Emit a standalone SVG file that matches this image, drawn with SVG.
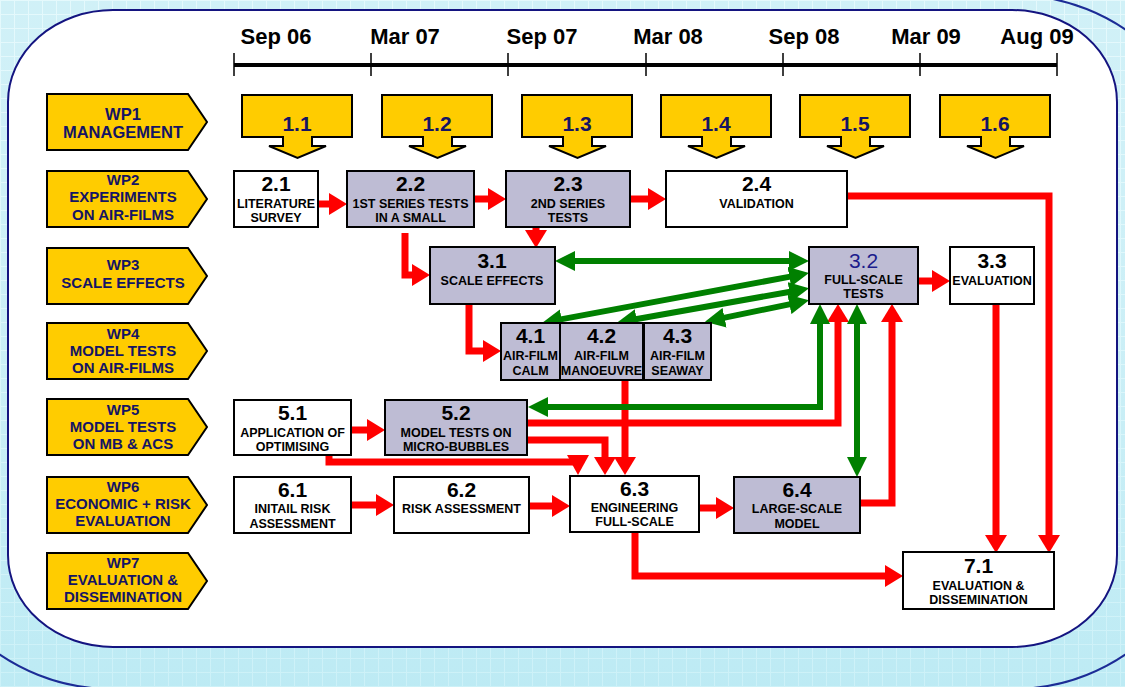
<svg xmlns="http://www.w3.org/2000/svg" width="1125" height="687" viewBox="0 0 1125 687">
<style>
text{font-family:"Liberation Sans",Arial,sans-serif;text-anchor:middle}
.tl{font-size:22px;font-weight:bold;fill:#000}
.wp{fill:#ffcc00;stroke:#000;stroke-width:2}
.wpt{font-size:15px;font-weight:bold;fill:#141464}
.box{stroke:#000;stroke-width:2}
.w{fill:#fff}
.g{fill:#bebcd4}
.num{font-size:21px;font-weight:bold;fill:#000}
.sub{font-size:12.5px;font-weight:bold;fill:#000}
.mnum{font-size:21px;font-weight:bold;fill:#141464}
.red{fill:none;stroke:#ff0000;stroke-width:7}
.grn{fill:none;stroke:#008000;stroke-width:6}
</style>
<defs>
<pattern id="grid" width="14" height="14" patternUnits="userSpaceOnUse">
<rect width="14" height="14" fill="#c8eef6"/>
<path d="M0,0.5H14M0.5,0V14" stroke="#e0f8fc" stroke-width="1"/>
</pattern>
<linearGradient id="bgfade" x1="0" y1="0" x2="0" y2="1">
<stop offset="0" stop-color="#ffffff" stop-opacity="0.15"/>
<stop offset="1" stop-color="#a8e4f0" stop-opacity="0.35"/>
</linearGradient>
<marker id="rh" viewBox="0 0 18 22" markerWidth="18" markerHeight="22" refX="1" refY="11" orient="auto" markerUnits="userSpaceOnUse">
<path d="M0,0 L18,11 L0,22 Z" fill="#ff0000"/>
</marker>
<marker id="gh" viewBox="0 0 20 20" markerWidth="20" markerHeight="20" refX="1" refY="10" orient="auto-start-reverse" markerUnits="userSpaceOnUse">
<path d="M0,0 L20,10 L0,20 Z" fill="#008000"/>
</marker>
<path id="down" d="M0,95 H110 V137 H70 V146 H84 L55.5,158 L27,146 H41 V137 H0 Z" fill="#ffcc00" stroke="#000" stroke-width="2"/>
</defs>

<rect width="1125" height="687" fill="url(#grid)"/>
<rect width="1125" height="687" fill="url(#bgfade)"/>
<path d="M112,-5 H1013 A200,200 0 0 1 1213,195 V489 A200,200 0 0 1 1013,689 H112 A200,200 0 0 1 -88,489" fill="none" stroke="#1c2c96" stroke-width="2"/>
<rect x="8" y="10" width="1109" height="637" rx="105" ry="92" fill="#fff" stroke="#141480" stroke-width="2"/>

<g id="timeline">
<line x1="234" y1="65" x2="1057" y2="65" stroke="#000" stroke-width="4"/>
<path d="M234,53V76M371,53V76M508,53V76M646,53V76M783,53V76M920,53V76M1057,53V76" stroke="#000" stroke-width="1.5"/>
<text class="tl" x="276" y="44">Sep 06</text>
<text class="tl" x="405" y="44">Mar 07</text>
<text class="tl" x="542" y="44">Sep 07</text>
<text class="tl" x="668" y="44">Mar 08</text>
<text class="tl" x="804" y="44">Sep 08</text>
<text class="tl" x="926" y="44">Mar 09</text>
<text class="tl" x="1037" y="44">Aug 09</text>
</g>

<g id="wp1"><path class="wp" d="M47,94 H188 L207,122 L188,150 H47 Z"/><text class="wpt" x="123" y="120" style="font-size:16.5px">WP1</text><text class="wpt" x="123" y="138" style="font-size:16.5px">MANAGEMENT</text></g>
<g id="wp2"><path class="wp" d="M47,171 H188 L207,199 L188,227 H47 Z"/><text class="wpt" x="123" y="185">WP2</text><text class="wpt" x="123" y="202">EXPERIMENTS</text><text class="wpt" x="123" y="220">ON AIR-FILMS</text></g>
<g id="wp3"><path class="wp" d="M47,248 H188 L207,276 L188,304 H47 Z"/><text class="wpt" x="123" y="270">WP3</text><text class="wpt" x="123" y="288">SCALE EFFECTS</text></g>
<g id="wp4"><path class="wp" d="M47,323 H188 L207,351 L188,379 H47 Z"/><text class="wpt" x="123" y="339">WP4</text><text class="wpt" x="123" y="356">MODEL TESTS</text><text class="wpt" x="123" y="373">ON AIR-FILMS</text></g>
<g id="wp5"><path class="wp" d="M47,399 H188 L207,427 L188,455 H47 Z"/><text class="wpt" x="123" y="415">WP5</text><text class="wpt" x="123" y="432">MODEL TESTS</text><text class="wpt" x="123" y="449">ON MB &amp; ACS</text></g>
<g id="wp6"><path class="wp" d="M47,477 H188 L207,505 L188,533 H47 Z"/><text class="wpt" x="123" y="492">WP6</text><text class="wpt" x="123" y="509">ECONOMIC + RISK</text><text class="wpt" x="123" y="526">EVALUATION</text></g>
<g id="wp7"><path class="wp" d="M47,553 H188 L207,581 L188,609 H47 Z"/><text class="wpt" x="123" y="568">WP7</text><text class="wpt" x="123" y="585">EVALUATION &amp;</text><text class="wpt" x="123" y="602">DISSEMINATION</text></g>

<g id="n1_1" transform="translate(242,0)"><use href="#down"/><text class="mnum" x="55" y="131">1.1</text></g>
<g id="n1_2" transform="translate(382,0)"><use href="#down"/><text class="mnum" x="55" y="131">1.2</text></g>
<g id="n1_3" transform="translate(522,0)"><use href="#down"/><text class="mnum" x="55" y="131">1.3</text></g>
<g id="n1_4" transform="translate(661,0)"><use href="#down"/><text class="mnum" x="55" y="131">1.4</text></g>
<g id="n1_5" transform="translate(800,0)"><use href="#down"/><text class="mnum" x="55" y="131">1.5</text></g>
<g id="n1_6" transform="translate(940,0)"><use href="#down"/><text class="mnum" x="55" y="131">1.6</text></g>

<g id="connectors">
<path class="red" d="M318,204 H330" marker-end="url(#rh)"/>
<path class="red" d="M474,199 H489" marker-end="url(#rh)"/>
<path class="red" d="M630,199 H649" marker-end="url(#rh)"/>
<path class="red" d="M847,196 H1049 V536" marker-end="url(#rh)"/>
<path class="red" d="M996,304 V536" marker-end="url(#rh)"/>
<path class="red" d="M405,233 V275 H413" marker-end="url(#rh)"/>
<path class="red" d="M536,227 V231" marker-end="url(#rh)"/>
<path class="red" d="M469,304 V351 H484" marker-end="url(#rh)"/>
<path class="red" d="M918,281 H933" marker-end="url(#rh)"/>
<path class="red" d="M625,380 V458" marker-end="url(#rh)"/>
<path class="red" d="M351,430 H368" marker-end="url(#rh)"/>
<path class="red" d="M527,423 H838 V321" marker-end="url(#rh)"/>
<path class="red" d="M527,440 H605 V458" marker-end="url(#rh)"/>
<path class="red" d="M329,455 V462 H578"/>
<path d="M567,455 L589,455 L578,475 Z" fill="#ff0000"/>
<path class="red" d="M351,505 H377" marker-end="url(#rh)"/>
<path class="red" d="M529,506 H553" marker-end="url(#rh)"/>
<path class="red" d="M699,508 H717" marker-end="url(#rh)"/>
<path class="red" d="M860,503 H892 V321" marker-end="url(#rh)"/>
<path class="red" d="M635,532 V576 H886" marker-end="url(#rh)"/>
<path class="grn" d="M574,261 H790" marker-start="url(#gh)" marker-end="url(#gh)"/>
<path class="grn" d="M560.7,319.4 L790.3,276.6" marker-start="url(#gh)" marker-end="url(#gh)"/>
<path class="grn" d="M635.6,319.3 L790.4,291.7" marker-start="url(#gh)" marker-end="url(#gh)"/>
<path class="grn" d="M723.6,317.9 L790.4,304.1" marker-start="url(#gh)" marker-end="url(#gh)"/>
<path class="grn" d="M820,323 V407 H547" marker-start="url(#gh)" marker-end="url(#gh)"/>
<path class="grn" d="M857,323 V458" marker-start="url(#gh)" marker-end="url(#gh)"/>
</g>

<g id="n2_1"><rect class="box w" x="234" y="171" width="84" height="56"/><text class="num" x="276" y="191">2.1</text><text class="sub" x="276" y="208">LITERATURE</text><text class="sub" x="276" y="222">SURVEY</text></g>
<g id="n2_2"><rect class="box g" x="347" y="171" width="127" height="56"/><text class="num" x="410.5" y="191">2.2</text><text class="sub" x="410.5" y="208">1ST SERIES TESTS</text><text class="sub" x="410.5" y="222">IN A SMALL</text></g>
<g id="n2_3"><rect class="box g" x="506" y="171" width="124" height="56"/><text class="num" x="568" y="191">2.3</text><text class="sub" x="568" y="208">2ND SERIES</text><text class="sub" x="568" y="222">TESTS</text></g>
<g id="n2_4"><rect class="box w" x="666" y="171" width="181" height="56"/><text class="num" x="756.5" y="191">2.4</text><text class="sub" x="756.5" y="208">VALIDATION</text></g>

<g id="n3_1"><rect class="box g" x="430" y="247" width="125" height="57"/><text class="num" x="492" y="268">3.1</text><text class="sub" x="492" y="285">SCALE EFFECTS</text></g>
<g id="n3_2"><rect class="box g" x="809" y="247" width="109" height="57"/><text x="863.5" y="268" style="font-size:21px;fill:#1c1c8c">3.2</text><text class="sub" x="863.5" y="284">FULL-SCALE</text><text class="sub" x="863.5" y="298">TESTS</text></g>
<g id="n3_3"><rect class="box w" x="950" y="247" width="84" height="57"/><text class="num" x="992" y="268">3.3</text><text class="sub" x="992" y="285">EVALUATION</text></g>

<g id="n4_1"><rect class="box g" x="501" y="323" width="59" height="57"/><text class="num" x="530.5" y="343">4.1</text><text class="sub" x="530.5" y="360">AIR-FILM</text><text class="sub" x="530.5" y="375">CALM</text></g>
<g id="n4_2"><rect class="box g" x="560" y="323" width="83" height="57"/><text class="num" x="601.5" y="343">4.2</text><text class="sub" x="601.5" y="360">AIR-FILM</text><text class="sub" x="601.5" y="375">MANOEUVRE</text></g>
<g id="n4_3"><rect class="box g" x="644" y="323" width="67" height="57"/><text class="num" x="677.5" y="343">4.3</text><text class="sub" x="677.5" y="360">AIR-FILM</text><text class="sub" x="677.5" y="375">SEAWAY</text></g>

<g id="n5_1"><rect class="box w" x="234" y="400" width="117" height="55"/><text class="num" x="292.5" y="420">5.1</text><text class="sub" x="292.5" y="437">APPLICATION OF</text><text class="sub" x="292.5" y="451">OPTIMISING</text></g>
<g id="n5_2"><rect class="box g" x="385" y="400" width="142" height="55"/><text class="num" x="456" y="420">5.2</text><text class="sub" x="456" y="437">MODEL TESTS ON</text><text class="sub" x="456" y="451">MICRO-BUBBLES</text></g>

<g id="n6_1"><rect class="box w" x="234" y="477" width="117" height="56"/><text class="num" x="292.5" y="497">6.1</text><text class="sub" x="292.5" y="513">INITAIL RISK</text><text class="sub" x="292.5" y="528">ASSESSMENT</text></g>
<g id="n6_2"><rect class="box w" x="394" y="477" width="135" height="56"/><text class="num" x="461.5" y="497">6.2</text><text class="sub" x="461.5" y="513">RISK ASSESSMENT</text></g>
<g id="n6_3"><rect class="box w" x="570" y="476" width="129" height="56"/><text class="num" x="634.5" y="496">6.3</text><text class="sub" x="634.5" y="512">ENGINEERING</text><text class="sub" x="634.5" y="526">FULL-SCALE</text></g>
<g id="n6_4"><rect class="box g" x="734" y="477" width="126" height="56"/><text class="num" x="797" y="497">6.4</text><text class="sub" x="797" y="513">LARGE-SCALE</text><text class="sub" x="797" y="528">MODEL</text></g>

<g id="n7_1"><rect class="box w" x="903" y="552" width="151" height="57"/><text class="num" x="978.5" y="573">7.1</text><text class="sub" x="978.5" y="590">EVALUATION &amp;</text><text class="sub" x="978.5" y="604">DISSEMINATION</text></g>
</svg>
